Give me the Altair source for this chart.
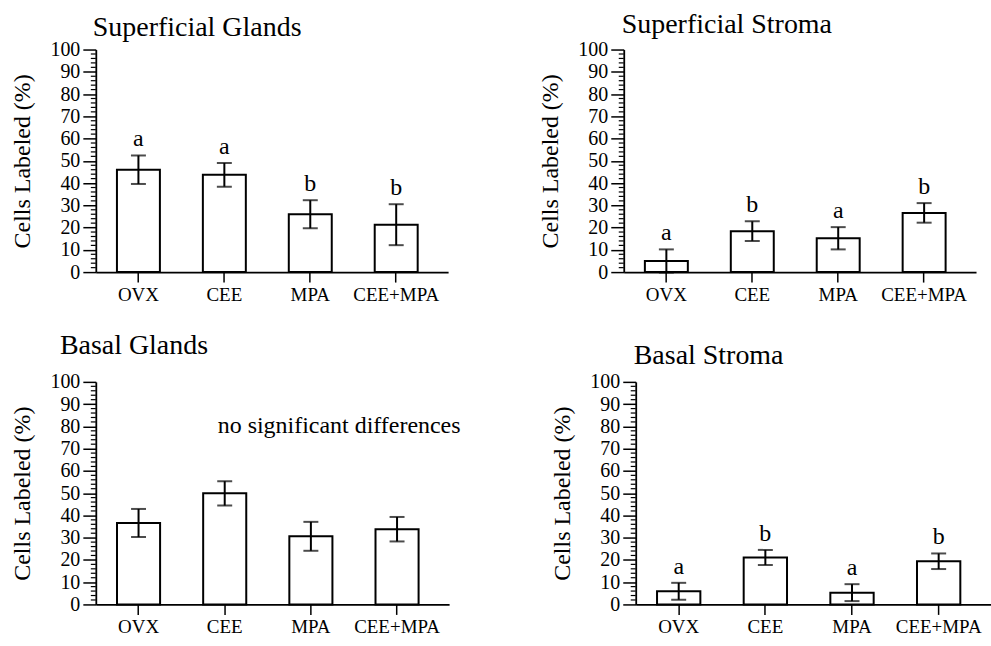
import altair as alt
import pandas as pd

groups = ["OVX", "CEE", "MPA", "CEE+MPA"]

sg_mean = [46.0, 43.7, 26.0, 21.3]
sg_err = [6.4, 5.3, 6.3, 9.2]
sg_letters = ["a", "a", "b", "b"]

ss_mean = [5.0, 18.4, 15.2, 26.6]
ss_err = [5.2, 4.4, 5.0, 4.4]
ss_letters = ["a", "b", "a", "b"]

bg_mean = [36.6, 49.9, 30.6, 33.8]
bg_err = [6.3, 5.5, 6.5, 5.5]
bg_letters = ["", "", "", ""]

bs_mean = [5.9, 21.1, 5.3, 19.4]
bs_err = [3.8, 3.4, 3.8, 3.5]
bs_letters = ["a", "b", "a", "b"]

major_ticks = list(range(0, 101, 10))
minor_ticks = [v for v in range(0, 101, 2) if v % 10 != 0]

FONT = "Liberation Serif"
YTITLE = "Cells Labeled (%)"


def panel(title, mean, err, letters, width, title_dx, title_offset, note=None):
    df = pd.DataFrame({
        "group": groups,
        "mean": mean,
        "lo": [m - e for m, e in zip(mean, err)],
        "hi": [m + e for m, e in zip(mean, err)],
        "letter": letters,
    })
    xs = alt.Scale(domain=groups, paddingInner=0.5, paddingOuter=0.3, align=0.41)
    ys = alt.Scale(domain=[0, 100], nice=False, zero=True)
    x_axis = alt.Axis(title=None, labelAngle=0, labelFont=FONT)
    y_axis = alt.Axis(values=major_ticks, title=YTITLE, labelFont=FONT, titleFont=FONT)

    def X():
        return alt.X("group:N", scale=xs, sort=groups, axis=x_axis, title=None)

    def Y(field):
        return alt.Y(field, scale=ys, axis=y_axis, title=YTITLE)

    base = alt.Chart(df)
    bars = base.mark_bar(fill="white", stroke="black", strokeWidth=2).encode(
        x=X(), y=Y("mean:Q"))
    stem = base.mark_rule(color="black", strokeWidth=2).encode(
        x=X(), y=Y("lo:Q"), y2="hi:Q")
    cap_hi = base.mark_tick(color="black", thickness=2, size=15).encode(
        x=X(), y=Y("hi:Q"))
    cap_lo = base.mark_tick(color="black", thickness=2, size=15).encode(
        x=X(), y=Y("lo:Q"))
    text = base.mark_text(font=FONT, fontSize=24, baseline="alphabetic", dy=-9, color="black").encode(
        x=X(), y=Y("hi:Q"), text="letter:N")
    minor = alt.Chart(pd.DataFrame({"v": minor_ticks})).mark_rule(color="black", strokeWidth=1.2).encode(
        y=Y("v:Q"), x=alt.value(-5), x2=alt.value(0))
    layers = [bars, stem, cap_hi, cap_lo, text, minor]
    if note:
        nt = alt.Chart(pd.DataFrame({"t": [note]})).mark_text(
            font=FONT, fontSize=24, align="left", baseline="middle", dx=-7, color="black").encode(
            x=alt.X(datum="CEE", scale=xs, axis=x_axis, title=None),
            y=alt.Y(datum=80, scale=ys, axis=y_axis, title=YTITLE), text="t:N")
        layers.append(nt)
    return alt.layer(*layers).properties(
        width=width, height=223,
        title=alt.TitleParams(title, anchor="start", frame="group", dx=title_dx,
                              offset=title_offset, font=FONT, fontSize=28,
                              fontWeight="normal", color="black"))


p1 = panel("Superficial Glands", sg_mean, sg_err, sg_letters, 353, -3, -2)
p2 = panel("Superficial Stroma", ss_mean, ss_err, ss_letters, 353, -2, 1)
p3 = panel("Basal Glands", bg_mean, bg_err, bg_letters, 354, -36, 12,
           note="no significant differences")
p4 = panel("Basal Stroma", bs_mean, bs_err, bs_letters, 356, -2, 2)

row1 = alt.hconcat(p1, p2, spacing=176, bounds="flush")
row2 = alt.hconcat(p3, p4, spacing=187, bounds="flush")
chart = alt.vconcat(row1, row2, spacing=28).properties(
    padding={"left": 11, "top": 10, "right": 0, "bottom": 0},
    background="white",
).configure_view(stroke=None).configure_axis(
    labelFont=FONT, titleFont=FONT, labelColor="black", titleColor="black",
    titleFontWeight="normal", tickColor="black", domainColor="black",
    tickWidth=1.5, domainWidth=1.8, grid=False, labelPadding=3,
).configure_axisX(
    labelFontSize=19, tickSize=10,
).configure_axisY(
    labelFontSize=20, titleFontSize=24, tickSize=13, titlePadding=15,
    labelOverlap=False, labelFlush=False,
)

chart.save("out.html", embed_options={"renderer": "svg", "actions": False})
